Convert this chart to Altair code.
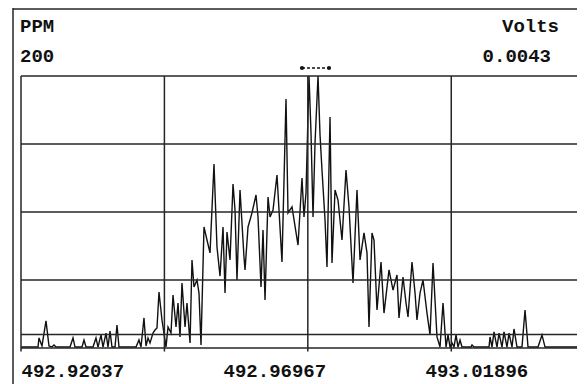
import altair as alt
import pandas as pd

# ---- data ----
mz = [492.92037, 492.92452, 492.92476, 492.92549, 492.92647, 492.92720, 492.92793, 492.92842, 492.92891,
      492.93233, 492.93306, 492.93355, 492.93525, 492.93574, 492.93623, 492.93794, 492.93867, 492.93916,
      492.93989, 492.94038, 492.94111, 492.94160, 492.94209, 492.94257, 492.94331, 492.94379, 492.94428,
      492.94843, 492.94916, 492.94965, 492.95038, 492.95087, 492.95136, 492.95185, 492.95258, 492.95307,
      492.95355, 492.95404, 492.95477, 492.95575, 492.95624, 492.95697, 492.95746, 492.95819, 492.95868,
      492.95917, 492.95965, 492.96039, 492.96087, 492.96161, 492.96209, 492.96258, 492.96331, 492.96380,
      492.96429, 492.96502, 492.96575, 492.96649, 492.96746, 492.96819, 492.96893, 492.96966, 492.97015,
      492.97063, 492.97137, 492.97210, 492.97259, 492.97307, 492.97381, 492.97478, 492.97503, 492.97576,
      492.97673, 492.97771, 492.97820, 492.97893, 492.97942, 492.97991, 492.98064, 492.98113, 492.98186,
      492.98283, 492.98405, 492.98503, 492.98552, 492.98649, 492.98796, 492.98893, 492.98942, 492.98991,
      492.99064, 492.99113, 492.99162, 492.99211, 492.99284, 492.99333, 492.99381, 492.99455, 492.99503,
      492.99577, 492.99625, 492.99699, 492.99772, 492.99869, 492.99967, 493.00040, 493.00138, 493.00235,
      493.00309, 493.00406, 493.00479, 493.00528, 493.00601, 493.00650, 493.00723, 493.00821, 493.00894,
      493.01016, 493.01114, 493.01211, 493.01260, 493.01358, 493.01431, 493.01480, 493.01577, 493.01651,
      493.01699, 493.01773, 493.01846, 493.01943, 493.02017, 493.02090, 493.02187, 493.02261, 493.02334,
      493.02407, 493.02456, 493.02505, 493.02553, 493.02602, 493.02651, 493.02700, 493.02749, 493.02797,
      493.03017, 493.03041, 493.03090, 493.03456, 493.03481, 493.03529, 493.03578, 493.03651, 493.03700,
      493.03773, 493.03822, 493.03895, 493.03944, 493.04017, 493.04066, 493.04139, 493.04261, 493.04335,
      493.04408, 493.04652, 493.04749, 493.04823, 493.05603]
ppm = [0.7, 0.7, 7.4, 1.5, 19.9, 1.5, 0.7, 2.2, 0.7,
       0.7, 7.4, 0.7, 0.7, 5.9, 0.7, 0.7, 7.4, 0.7,
       9.6, 0.7, 11.0, 0.7, 12.5, 0.7, 0.7, 16.9, 0.7,
       0.7, 5.9, 0.7, 22.1, 1.5, 7.4, 3.7, 11.0, 13.2,
       14.7, 41.2, 20.6, 0.7, 15.4, 11.0, 39.0, 15.4, 33.1,
       8.1, 47.8, 15.4, 33.1, 3.7, 64.7, 44.9, 50.0, 40.4,
       2.2, 89.0, 79.4, 69.9, 135.3, 74.3, 52.9, 89.0, 40.4,
       85.3, 64.7, 120.6, 101.5, 50.0, 116.2, 66.9, 57.4, 89.0,
       99.3, 112.5, 96.3, 44.9, 86.8, 35.3, 111.0, 96.3, 101.5,
       127.2, 63.2, 183.1, 99.3, 103.7, 75.7, 125.0, 96.3, 114.0,
       200.0, 158.1, 96.3, 150.7, 200.0, 156.6, 130.9, 94.1, 59.6,
       169.9, 62.5, 116.2, 108.8, 79.4, 130.9, 103.7, 47.8, 116.2,
       64.7, 84.6, 69.9, 15.4, 84.6, 79.4, 27.9, 63.2, 25.7,
       57.4, 42.6, 53.7, 22.1, 52.2, 33.1, 22.8, 63.2, 40.4,
       20.6, 40.4, 50.0, 25.7, 9.6, 62.5, 8.1, 0.7, 33.1,
       0.7, 9.6, 0.7, 3.7, 0.7, 9.6, 0.7, 5.9, 0.7,
       0.7, 2.2, 0.7, 0.7, 8.1, 0.7, 11.8, 0.7, 11.0,
       0.7, 11.8, 0.7, 11.0, 0.7, 14.0, 0.7, 0.7, 27.9,
       0.7, 0.7, 9.6, 0.7, 0.7]

x_domain = [492.92037, 493.05603]
x_label_values = [492.92037, 492.96967, 493.01896]
x_grid = [492.92037, 492.95536, 492.99035, 493.02535]
y_grid = [0, 50, 100, 150, 200]
threshold_ppm = [10]
resolution_marker = [492.98893, 492.99552]
left_title, left_value = "PPM", "200"
right_title, right_value = "Volts", "0.0043"

# ---- chart ----
W, H = 556, 272
INK = "#111111"
GRID = "#262626"
FONT = "Liberation Mono"

xs = alt.Scale(domain=x_domain, nice=False, zero=False)
ys = alt.Scale(domain=[0, 200], nice=False, zero=False)

trace_df = pd.DataFrame({"mz": mz, "ppm": ppm})

trace = alt.Chart(trace_df).mark_line(color=INK, strokeWidth=1.4, clip=True).encode(
    x=alt.X("mz:Q", scale=xs,
            axis=alt.Axis(values=x_label_values, format=".5f", labelFont=FONT,
                          labelFontWeight="bold", labelFontSize=19, labelColor=INK,
                          labelAlign="left", labelBaseline="alphabetic", labelPadding=28,
                          ticks=False, domain=False, grid=False, title=None,
                          labelFlush=False, labelOverlap=False)),
    y=alt.Y("ppm:Q", scale=ys, axis=None),
)

vgrid_df = pd.DataFrame({"mz": x_grid, "top": [max(y_grid)] * len(x_grid), "bot": [-2.5] * len(x_grid)})
vgrid = alt.Chart(vgrid_df).mark_rule(color=GRID, strokeWidth=1.5).encode(
    x=alt.X("mz:Q"), y=alt.Y("top:Q"), y2="bot:Q"
)
hlines = y_grid + threshold_ppm
hgrid_df = pd.DataFrame({"ppm": hlines, "x0": [x_domain[0]] * len(hlines), "x1": [x_domain[1]] * len(hlines)})
hgrid = alt.Chart(hgrid_df).mark_rule(color=GRID, strokeWidth=1.5).encode(
    y=alt.Y("ppm:Q"), x=alt.X("x0:Q"), x2="x1:Q"
)

marker_line = alt.Chart(pd.DataFrame({"a": [resolution_marker[0]], "b": [resolution_marker[1]]})).mark_rule(
    color=INK, strokeWidth=1.5, strokeDash=[3, 2]).encode(
    x=alt.X("a:Q"), x2="b:Q", y=alt.value(-8)
)
marker_dots = alt.Chart(pd.DataFrame({"mz": resolution_marker})).mark_point(
    filled=True, color=INK, size=18, opacity=1).encode(
    x=alt.X("mz:Q"), y=alt.value(-8)
)

frame_left = alt.Chart(pd.DataFrame({"k": [0]})).mark_rule(color=GRID, strokeWidth=1.5).encode(
    x=alt.value(-8), y=alt.value(-68), y2=alt.value(308)
)
frame_top = alt.Chart(pd.DataFrame({"k": [0]})).mark_rule(color=GRID, strokeWidth=1.5).encode(
    x=alt.value(-8), x2=alt.value(W), y=alt.value(-67)
)

def label(txt, x, y, align):
    return alt.Chart(pd.DataFrame({"t": [txt]})).mark_text(
        font=FONT, fontWeight="bold", fontSize=19, color=INK, align=align, baseline="alphabetic"
    ).encode(text="t:N", x=alt.value(x), y=alt.value(y))

chart = alt.layer(
    trace, hgrid, vgrid, marker_line, marker_dots, frame_left, frame_top,
    label(left_title, -1, -44, "left"), label(left_value, -1, -14, "left"),
    label(right_title, 538, -44, "right"), label(right_value, 530, -14, "right"),
).properties(
    width=W, height=H,
    padding={"left": 13, "top": 68, "right": 0, "bottom": 36},
    autosize=alt.AutoSizeParams(type="none"),
    background="white",
).configure_view(stroke=None)

chart.save("out.html", embed_options={"renderer": "svg", "actions": False})
